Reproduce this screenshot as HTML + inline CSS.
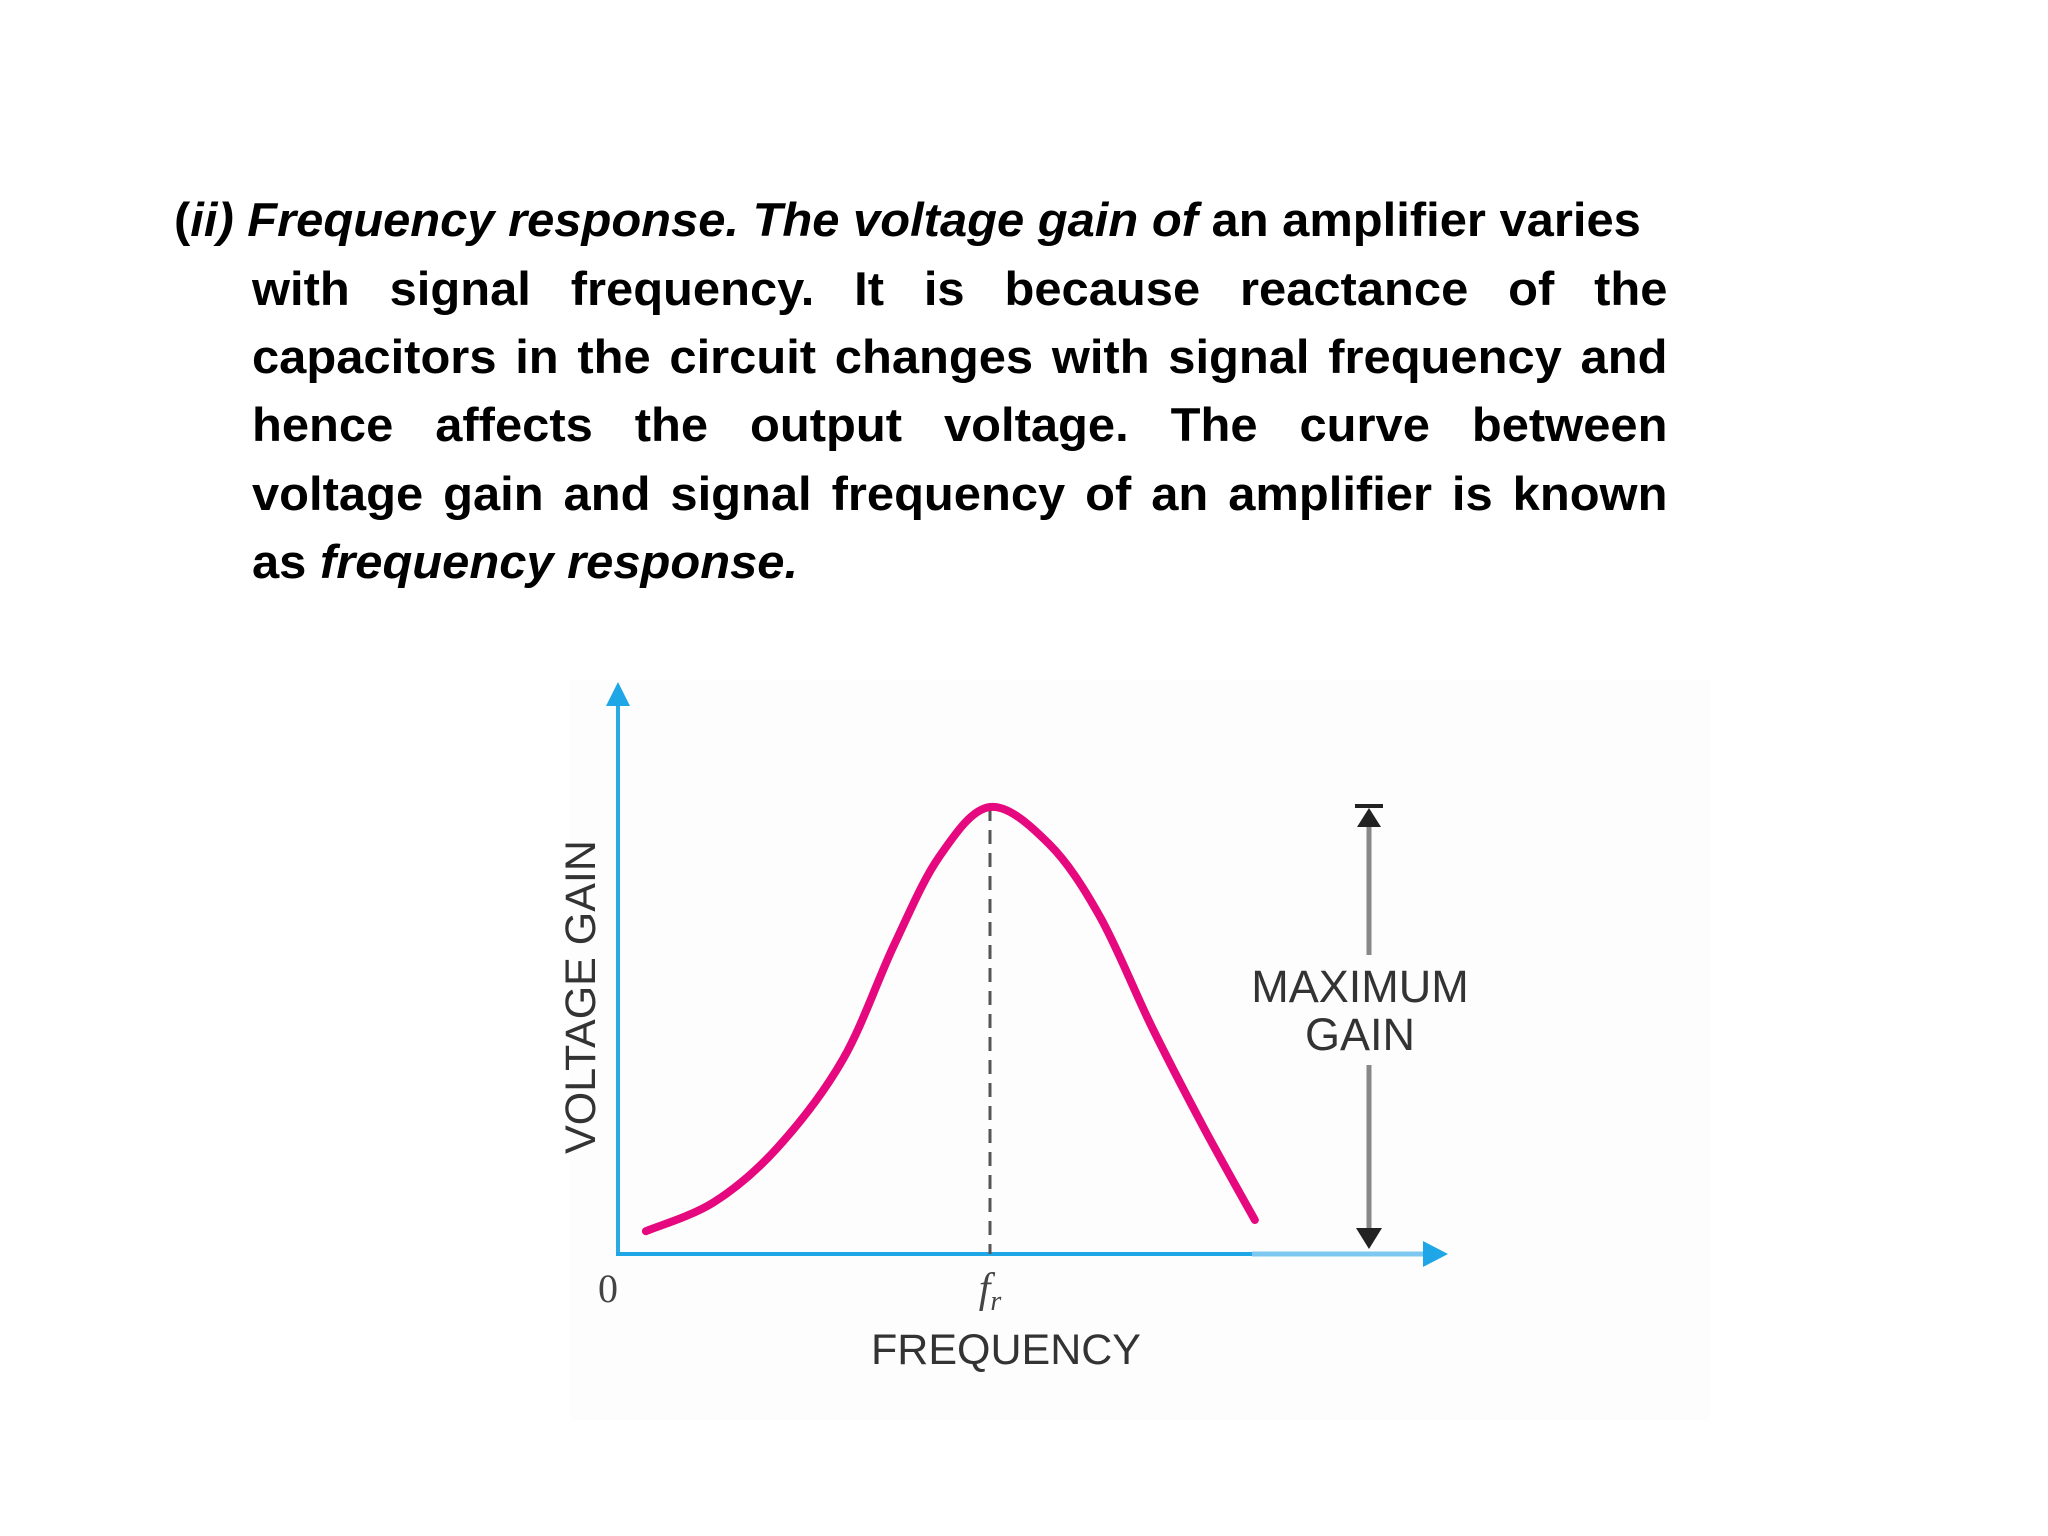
<!DOCTYPE html>
<html><head><meta charset="utf-8"><style>
html,body{margin:0;padding:0;background:#fff;}
#page{position:relative;width:2048px;height:1536px;overflow:hidden;background:#fff;}
.ln{position:absolute;font-family:"Liberation Sans",sans-serif;font-weight:bold;font-size:47px;color:#000;white-space:nowrap;transform-origin:0 0;transform:scaleX(1.04);line-height:1;}
.j{text-align:justify;text-align-last:justify;white-space:normal;width:1361px;}
i{font-style:italic;}
svg{position:absolute;left:0;top:0;}
</style></head><body>
<div id="page">
<div class="ln" style="left:174px;top:196px;">(<i>ii) Frequency response. The voltage gain of</i> an amplifier varies</div>
<div class="ln j" style="left:252px;top:265px;">with signal frequency. It is because reactance of the</div>
<div class="ln j" style="left:252px;top:333px;">capacitors in the circuit changes with signal frequency and</div>
<div class="ln j" style="left:252px;top:401px;">hence affects the output voltage. The curve between</div>
<div class="ln j" style="left:252px;top:470px;">voltage gain and signal frequency of an amplifier is known</div>
<div class="ln" style="left:252px;top:538px;">as <i>frequency response.</i></div>

<svg id="chart" width="2048" height="1536">
<rect x="570" y="680" width="1140" height="740" fill="#fdfdfd"/>
<line x1="618" y1="1254" x2="618" y2="705" stroke="#29abe2" stroke-width="4"/>
<polygon points="606,706 630,706 618,682" fill="#1ea6e6"/>
<line x1="616" y1="1254" x2="1252" y2="1254" stroke="#1ea6e6" stroke-width="4"/>
<line x1="1252" y1="1254" x2="1425" y2="1254" stroke="#7cc8f0" stroke-width="5"/>
<polygon points="1423,1241 1423,1267 1448,1254" fill="#1ea6e6"/>
<line id="frline" stroke="#555" stroke-width="3" stroke-dasharray="14,9"/>
<path id="curve" fill="none" stroke="#e5087e" stroke-width="8" stroke-linecap="round"/>
<line x1="1369" y1="812" x2="1369" y2="955" stroke="#888" stroke-width="5"/>
<line x1="1369" y1="1065" x2="1369" y2="1235" stroke="#888" stroke-width="5"/>
<line x1="1355" y1="806" x2="1383" y2="806" stroke="#222" stroke-width="4"/>
<polygon points="1357,827 1381,827 1369,808" fill="#222"/>
<polygon points="1356,1228 1382,1228 1369,1249" fill="#222"/>
<text x="1360" y="1002" font-family="Liberation Sans, sans-serif" font-size="45" fill="#333" text-anchor="middle">MAXIMUM</text>
<text x="1360" y="1050" font-family="Liberation Sans, sans-serif" font-size="45" fill="#333" text-anchor="middle">GAIN</text>
<text x="608" y="1302" font-family="Liberation Serif, serif" font-size="40" fill="#444" text-anchor="middle">0</text>
<text id="frlabel" y="1302" font-family="Liberation Serif, serif" font-style="italic" font-size="42" fill="#444" text-anchor="middle">f<tspan font-size="28" dy="8">r</tspan></text>
<text x="1006" y="1364" font-family="Liberation Sans, sans-serif" font-size="43" fill="#333" text-anchor="middle">FREQUENCY</text>
<text x="0" y="0" transform="translate(595,997) rotate(-90)" font-family="Liberation Sans, sans-serif" font-size="43" fill="#333" text-anchor="middle">VOLTAGE GAIN</text>
</svg>
</div>
<script>
const freqs = [0.75, 2.58, 4.3, 6.05, 7.42, 8.63, 10, 11.59, 12.96, 14.35, 15.75, 17.12];
const gains = [5.1, 11.6, 23.9, 43.6, 69.1, 88.8, 100, 91.7, 75.4, 50.8, 28.2, 7.6];
const resonantFreq = [10];
function xs(f){return 618 + f*37.2;}
function ys(g){return 1254 - g*4.47;}
const pts = freqs.map((f,i)=>[xs(f), ys(gains[i])]);
let d = 'M' + pts[0][0] + ',' + pts[0][1];
for (let i=0;i<pts.length-1;i++){
  const p0=pts[Math.max(0,i-1)], p1=pts[i], p2=pts[i+1], p3=pts[Math.min(pts.length-1,i+2)];
  const c1=[p1[0]+(p2[0]-p0[0])/6, p1[1]+(p2[1]-p0[1])/6];
  const c2=[p2[0]-(p3[0]-p1[0])/6, p2[1]-(p3[1]-p1[1])/6];
  d += ' C'+c1[0]+','+c1[1]+' '+c2[0]+','+c2[1]+' '+p2[0]+','+p2[1];
}
document.getElementById('curve').setAttribute('d', d);
const fl = document.getElementById('frline');
const peak = Math.max(...gains);
fl.setAttribute('x1', xs(resonantFreq[0])); fl.setAttribute('x2', xs(resonantFreq[0]));
fl.setAttribute('y1', ys(peak)); fl.setAttribute('y2', 1254);
document.getElementById('frlabel').setAttribute('x', xs(resonantFreq[0]));
</script>
</body></html>
